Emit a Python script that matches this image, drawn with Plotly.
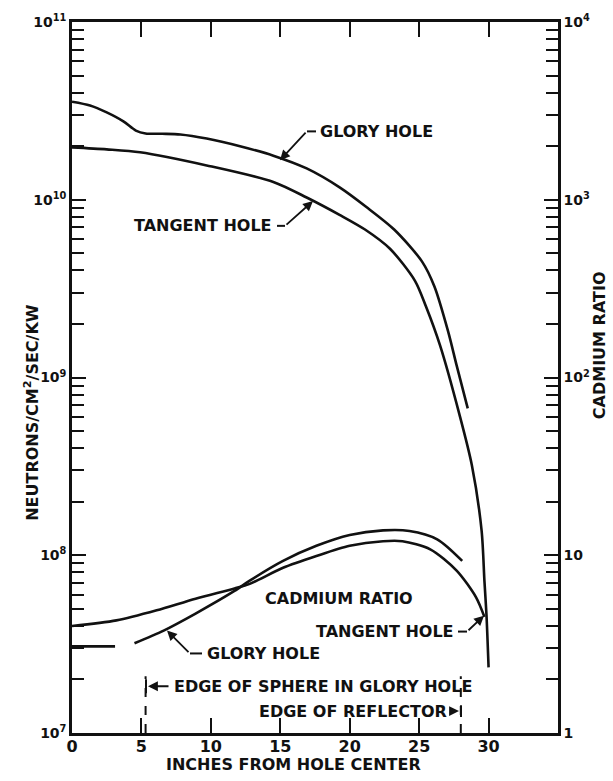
import plotly.graph_objects as go

# ---------------- data ----------------
# Upper curves: thermal flux, neutrons/cm^2/sec/kW (left axis)
glory_x = [0, 1.3, 2.5, 3.7, 4.6, 5.3, 6.5, 7.8, 9.7, 12.1, 14.5, 16.9, 19.3, 21.2, 23.2, 25.2, 26.1, 27.1, 27.7, 28.5]
glory_flux = [3.56e10, 3.39e10, 3.1e10, 2.76e10, 2.45e10, 2.36e10, 2.35e10, 2.33e10, 2.21e10, 2.0e10,
              1.77e10, 1.5e10, 1.17e10, 9.1e9, 6.8e9, 4.5e9, 3.25e9, 1.8e9, 1.17e9, 6.7e8]

tangent_x = [0, 2.5, 4.9, 9.7, 14.5, 16.9, 19.3, 21.1, 22.9, 24.7, 25.5, 26.5, 27.9, 28.8, 29.5, 29.7, 29.85, 30.0]
tangent_flux = [1.97e10, 1.92e10, 1.85e10, 1.56e10, 1.26e10, 1.03e10, 8.2e9, 6.8e9,
                5.3e9, 3.5e9, 2.5e9, 1.52e9, 6.2e8, 3.2e8, 1.37e8, 7.2e7, 4.6e7, 2.34e7]

# Lower curves: cadmium ratio (right axis)
tangent_cd_x = [0, 3.2, 6.1, 8.9, 11.7, 12.8, 15.2, 17.6, 20, 22.4, 23.8, 25.8, 27.7, 29.1, 29.7]
tangent_cd = [4.0, 4.3, 4.9, 5.7, 6.5, 6.9, 8.5, 9.9, 11.3, 12.0, 12.0, 10.8, 8.2, 5.8, 4.5]

glory_cd_x = [0, 3.1, None, 4.5, 6.6, 8.9, 11.7, 12.8, 15.2, 17.6, 20, 22.4, 24.3, 26.3, 28.1]
glory_cd = [3.07, 3.07, None, 3.2, 3.77, 4.7, 6.3, 7.2, 9.3, 11.3, 13.0, 13.8, 13.7, 12.3, 9.3]

SPHERE_EDGE = 5.3
REFLECTOR_EDGE = 28.0

x_tickvals = [0, 5, 10, 15, 20, 25, 30]
x_ticktext = ["0", "5", "10", "15", "20", "25", "30"]
y_tickvals = [1e7, 1e8, 1e9, 1e10, 1e11]
y_ticktext = ["10<sup>7</sup>", "10<sup>8</sup>", "10<sup>9</sup>", "10<sup>10</sup>", "10<sup>11</sup>"]
y2_tickvals = [1, 10, 100, 1000, 10000]
y2_ticktext = ["1", "10", "10<sup>2</sup>", "10<sup>3</sup>", "10<sup>4</sup>"]

# ---------------- style ----------------
INK = "#111111"
FONT = dict(family="DejaVu Sans, Liberation Sans, Arial", size=16, color=INK, weight="bold")
TICKFONT = dict(family="DejaVu Sans, Liberation Sans, Arial", size=14, color=INK, weight="bold")
W, H = 613, 781
ML, MR, MT, MB = 72, 55, 18, 48
PW, PH = W - ML - MR, H - MT - MB


def px(x):
    return (x - ML) / PW


def py(y):
    return (H - MB - y) / PH


y_minor = [k * 10 ** n for n in range(7, 11) for k in range(2, 10)]
y2_minor = [k * 10 ** n for n in range(0, 4) for k in range(2, 10)]

line_style = dict(color=INK, width=2.6, shape="spline", smoothing=0.8)

fig = go.Figure()
fig.add_trace(go.Scatter(x=glory_x, y=glory_flux, mode="lines", line=line_style, showlegend=False))
fig.add_trace(go.Scatter(x=tangent_x, y=tangent_flux, mode="lines", line=line_style, showlegend=False))
fig.add_trace(go.Scatter(x=tangent_cd_x, y=tangent_cd, mode="lines", line=line_style,
                         yaxis="y2", showlegend=False))
fig.add_trace(go.Scatter(x=glory_cd_x, y=glory_cd, mode="lines", line=line_style,
                         yaxis="y2", connectgaps=False, showlegend=False))

axis_common = dict(showline=True, linecolor=INK, linewidth=2.5, showgrid=False, zeroline=False,
                   ticks="inside", tickcolor=INK, tickwidth=2)

fig.update_layout(
    width=W, height=H,
    margin=dict(l=ML, r=MR, t=MT, b=MB),
    paper_bgcolor="white", plot_bgcolor="white",
    font=FONT,
    xaxis=dict(range=[0, 35], tickvals=x_tickvals, ticktext=x_ticktext, ticklen=15,
               mirror="ticks", ticklabelstandoff=-3, tickfont=FONT, **axis_common),
    yaxis=dict(type="log", range=[7, 11], tickvals=y_tickvals, ticktext=y_ticktext, ticklen=14,
               tickfont=TICKFONT,
               minor=dict(tickvals=y_minor, ticks="inside", ticklen=12, tickcolor=INK, tickwidth=2),
               **axis_common),
    yaxis2=dict(type="log", range=[0, 4], overlaying="y", side="right", anchor="x",
                tickvals=y2_tickvals, ticktext=y2_ticktext, ticklen=14, tickfont=TICKFONT,
                minor=dict(tickvals=y2_minor, ticks="inside", ticklen=12, tickcolor=INK, tickwidth=2),
                **axis_common),
)

ann = []


def label(text, x, y, xanchor="left", angle=0):
    ann.append(dict(text=text, x=px(x), y=py(y), xref="paper", yref="paper", xanchor=xanchor,
                    yanchor="middle", showarrow=False, font=FONT, textangle=angle))


def arrow(tipx, tipy, tailx, taily):
    ann.append(dict(text="", x=px(tipx), y=py(tipy), xref="paper", yref="paper",
                    ax=tailx - tipx, ay=taily - tipy, showarrow=True, arrowhead=2,
                    arrowsize=1.1, arrowwidth=1.8, arrowcolor=INK, standoff=0, startstandoff=0))


shapes = []


def seg(x0, y0, x1, y1, dash="solid"):
    shapes.append(dict(type="line", xref="paper", yref="paper", x0=px(x0), y0=py(y0),
                       x1=px(x1), y1=py(y1), line=dict(color=INK, width=2, dash=dash)))


# axis titles
label("INCHES FROM HOLE CENTER", 293, 765, xanchor="center")
label("NEUTRONS/CM<sup>2</sup>/SEC/KW", 32, 411, xanchor="center", angle=-90)
label("CADMIUM RATIO", 599, 343, xanchor="center", angle=-90)

# curve labels
label("GLORY HOLE", 318, 128)
seg(307, 128, 316, 128)
arrow(280, 157, 307, 128)

label("TANGENT HOLE", 274, 223, xanchor="right")
seg(277, 223, 285, 223)
arrow(313, 198, 285, 223)

label("CADMIUM RATIO", 263, 598)

label("TANGENT HOLE", 456, 631, xanchor="right")
seg(458, 631, 467, 631)
arrow(484, 615, 467, 631)

label("GLORY HOLE", 205, 653)
seg(190, 653, 202, 653)
arrow(167, 630, 190, 653)

# edges
label("EDGE OF SPHERE IN GLORY HOLE", 172, 686)
arrow(148, 686, 170, 686)
seg(146, 679, 146, 693)
label("EDGE OF REFLECTOR", 449, 711, xanchor="right")
arrow(459, 711, 450, 711)
seg(461, 705, 461, 717)

for xe in (SPHERE_EDGE, REFLECTOR_EDGE):
    shapes.append(dict(type="line", xref="x", yref="paper", x0=xe, x1=xe, y0=0, y1=py(676),
                       line=dict(color=INK, width=2, dash="dash")))

fig.update_layout(annotations=ann, shapes=shapes)
fig.write_html("out.html", config={"displayModeBar": False},
               post_script="document.body.style.margin='0';document.body.style.overflow='hidden';")
